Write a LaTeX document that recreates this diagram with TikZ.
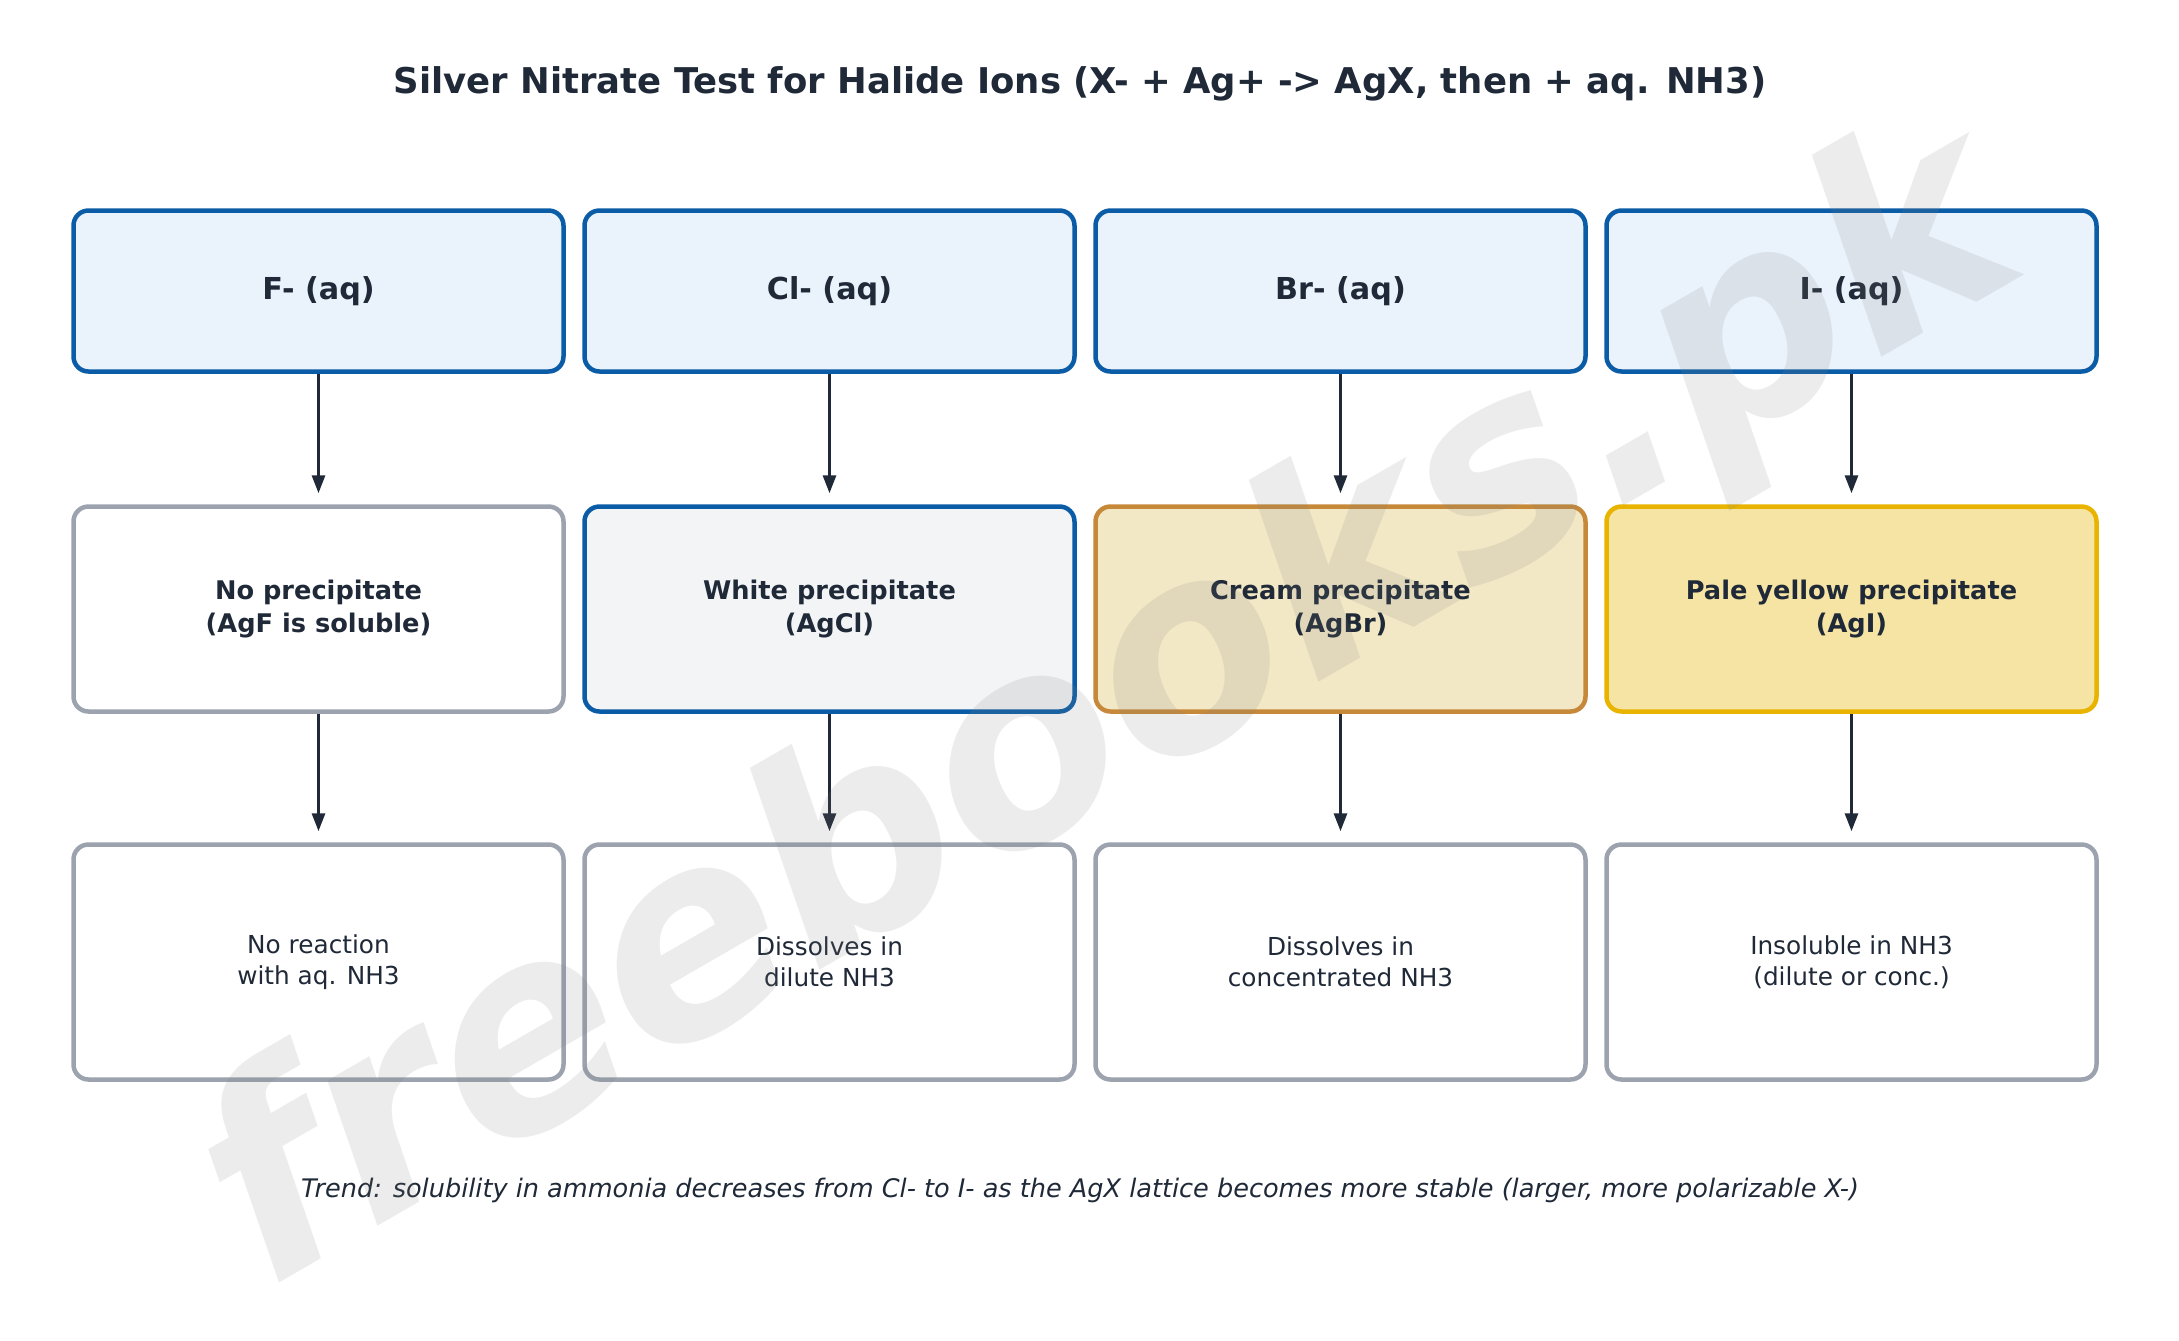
\documentclass[tikz,border=0pt]{standalone}
\usepackage{fontspec}
\setmainfont{DejaVu Sans}
\usepackage{tikz}
\usetikzlibrary{arrows.meta}
\definecolor{inkdark}{HTML}{1F2937}
\definecolor{ionblue}{HTML}{0B5CA6}
\definecolor{ionfill}{HTML}{EAF2FB}
\definecolor{boxgray}{HTML}{9CA3AF}
\definecolor{clfill}{HTML}{F3F4F6}
\definecolor{brdraw}{HTML}{C6893A}
\definecolor{brfill}{HTML}{F2E8C6}
\definecolor{idraw}{HTML}{E8B400}
\definecolor{ifill}{HTML}{F6E4A5}
\tikzset{
    card/.style={rectangle, rounded corners=1.5mm, line width=0.45mm, minimum width=49mm, align=center, text=inkdark}, % 所有方框的通用样式
    ionbox/.style={card, draw=ionblue, fill=ionfill, minimum height=16.1mm, font=\bfseries\fontsize{8.6}{10.3}\selectfont}, % 第一行
    pptbox/.style={card, minimum height=20.5mm, font=\bfseries\fontsize{7.3}{9.4}\selectfont}, % 第二行
    nonebox/.style={pptbox, draw=boxgray, fill=white},
    whitebox/.style={pptbox, draw=ionblue, fill=clfill},
    creambox/.style={pptbox, draw=brdraw, fill=brfill},
    yellowbox/.style={pptbox, draw=idraw, fill=ifill},
    nhbox/.style={card, draw=boxgray, fill=white, minimum height=23.5mm, font=\fontsize{7.04}{8.9}\selectfont}, % 第三行
    arr/.style={-{Triangle[length=1.8mm, width=1.3mm]}, line width=0.3mm, draw=inkdark, shorten >=1.1mm}
}

\begin{document}
\begin{tikzpicture}[x=0.1mm, y=-0.1mm]
    \useasboundingbox (0,0) rectangle (2179,1340);
    \def\pitch{511} \def\ystart{-192.5}

    \node[font=\bfseries\fontsize{10.09}{12.1}\selectfont, text=inkdark] (title) at (1080,84)
        {Silver Nitrate Test for Halide Ions (X- + Ag+ -> AgX, then + aq. NH3)};

    \foreach \i/\ion/\ppt/\pstyle/\nh in {
        1/{F- (aq)}/{No precipitate\\(AgF is soluble)}/nonebox/{No reaction\\with aq. NH3},
        2/{Cl- (aq)}/{White precipitate\\(AgCl)}/whitebox/{Dissolves in\\dilute NH3},
        3/{Br- (aq)}/{Cream precipitate\\(AgBr)}/creambox/{Dissolves in\\concentrated NH3},
        4/{I- (aq)}/{Pale yellow precipitate\\(AgI)}/yellowbox/{Insoluble in NH3\\(dilute or conc.)}} {
        \node[ionbox] (ion\i) at (\i*\pitch+\ystart, 291) {\ion};
        \node[\pstyle] (ppt\i) at (\i*\pitch+\ystart, 609) {\ppt};
        \node[nhbox] (nh\i) at (\i*\pitch+\ystart, 962) {\nh};
        \draw[arr] (ion\i.south) -- (ppt\i.north);
        \draw[arr] (ppt\i.south) -- (nh\i.north);
    }

    \node[font=\itshape\fontsize{7.27}{8.7}\selectfont, text=inkdark] (trend) at (1080,1190)
        {Trend: solubility in ammonia decreases from Cl- to I- as the AgX lattice becomes more stable (larger, more polarizable X-)};

    \node[rotate=30, text=gray, text opacity=0.15, font=\bfseries\itshape\fontsize{78.5}{92}\selectfont] (wmark) at (1112,714) {freebooks.pk};
\end{tikzpicture}
\end{document}
